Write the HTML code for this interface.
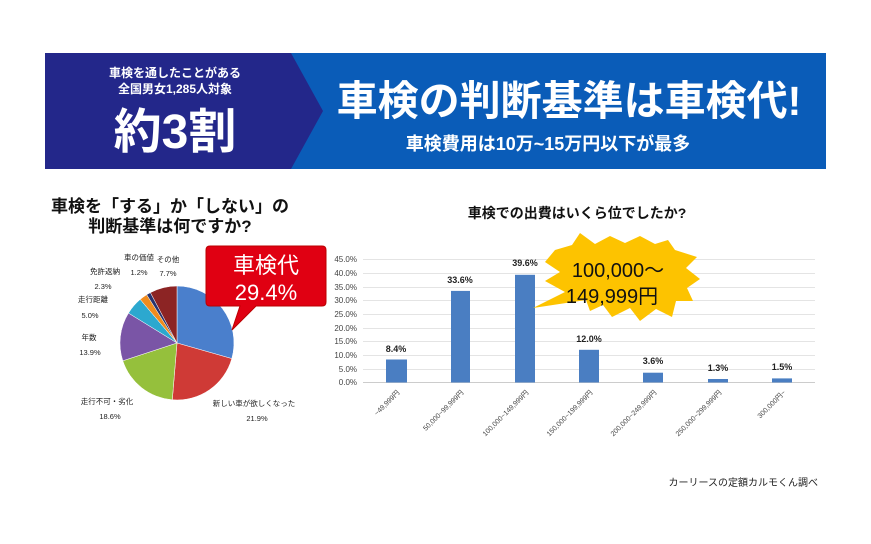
<!DOCTYPE html>
<html><head><meta charset="utf-8"><style>
body{margin:0;width:871px;height:544px;background:#fff;overflow:hidden}
svg{display:block}
text{font-family:"Liberation Sans","Noto Sans CJK JP",sans-serif}
</style></head><body>
<svg width="871" height="544" viewBox="0 0 871 544">
<rect x="45" y="53" width="781" height="116" fill="#0a5cb8"/>
<polygon points="45,53 291,53 323,111 291,169 45,169" fill="#23278a"/>
<text x="175" y="77" fill="#fff" font-size="12" font-weight="bold" text-anchor="middle">車検を通したことがある</text>
<text x="175" y="93" fill="#fff" font-size="12" font-weight="bold" text-anchor="middle">全国男女1,285人対象</text>
<text x="175" y="148" fill="#fff" font-size="48" font-weight="bold" text-anchor="middle">約3割</text>
<text x="569" y="115" fill="#fff" font-size="41" font-weight="bold" text-anchor="middle">車検の判断基準は車検代!</text>
<text x="548" y="150" fill="#fff" font-size="18" font-weight="bold" text-anchor="middle">車検費用は10万~15万円以下が最多</text>

<text x="170" y="212" font-size="17" font-weight="bold" text-anchor="middle" fill="#111">車検を「する」か「しない」の</text>
<text x="170" y="232" font-size="17" font-weight="bold" text-anchor="middle" fill="#111">判断基準は何ですか?</text>

<g stroke="#fff" stroke-width="0.5">
<path d="M177,343 L177,286 A57,57 0 0 1 231.8,358.6Z" fill="#4a7fcc"/>
<path d="M177,343 L231.8,358.6 A57,57 0 0 1 172.3,399.8Z" fill="#cf3a36"/>
<path d="M177,343 L172.3,399.8 A57,57 0 0 1 122.8,360.8Z" fill="#95c03c"/>
<path d="M177,343 L122.8,360.8 A57,57 0 0 1 128.5,313.1Z" fill="#7a55a6"/>
<path d="M177,343 L128.5,313.1 A57,57 0 0 1 140.2,299.4Z" fill="#2ca8cf"/>
<path d="M177,343 L140.2,299.4 A57,57 0 0 1 146.7,294.7Z" fill="#f08c1e"/>
<path d="M177,343 L146.7,294.7 A57,57 0 0 1 150.4,292.6Z" fill="#27336e"/>
<path d="M177,343 L150.4,292.6 A57,57 0 0 1 177,286Z" fill="#8c2424"/>
</g>
<g font-size="7.5" fill="#222" text-anchor="middle">
<text x="139" y="260">車の価値</text><text x="139" y="275">1.2%</text>
<text x="168" y="262">その他</text><text x="168" y="276">7.7%</text>
<text x="105" y="274">免許返納</text><text x="103" y="289">2.3%</text>
<text x="93" y="302">走行距離</text><text x="90" y="318">5.0%</text>
<text x="89" y="340">年数</text><text x="90" y="355">13.9%</text>
<text x="107" y="404">走行不可・劣化</text><text x="110" y="419">18.6%</text>
<text x="254" y="406">新しい車が欲しくなった</text><text x="257" y="421">21.9%</text>
</g>
<path d="M210,246 H322 Q326,246 326,250 V302 Q326,306 322,306 H256 L232,330 L240,306 H210 Q206,306 206,302 V250 Q206,246 210,246Z" fill="#e00012" stroke="#b00" stroke-width="1"/>
<text x="266" y="273" fill="#fff" font-size="22" text-anchor="middle">車検代</text>
<text x="266" y="300" fill="#fff" font-size="22" text-anchor="middle">29.4%</text>

<text x="577" y="218" font-size="14" font-weight="bold" text-anchor="middle" fill="#111">車検での出費はいくら位でしたか?</text>
<g stroke="#e4e4e4" stroke-width="1">
<line x1="363" x2="815" y1="259.5" y2="259.5"/><line x1="363" x2="815" y1="273.5" y2="273.5"/>
<line x1="363" x2="815" y1="287.5" y2="287.5"/><line x1="363" x2="815" y1="300.5" y2="300.5"/>
<line x1="363" x2="815" y1="314.5" y2="314.5"/><line x1="363" x2="815" y1="328.5" y2="328.5"/>
<line x1="363" x2="815" y1="341.5" y2="341.5"/><line x1="363" x2="815" y1="355.5" y2="355.5"/>
<line x1="363" x2="815" y1="369.5" y2="369.5"/><line x1="363" x2="815" y1="382.5" y2="382.5" stroke="#ccc"/>
</g>
<g font-size="8" fill="#444" text-anchor="end">
<text x="357" y="262">45.0%</text><text x="357" y="276">40.0%</text><text x="357" y="290">35.0%</text>
<text x="357" y="303">30.0%</text><text x="357" y="317">25.0%</text><text x="357" y="331">20.0%</text>
<text x="357" y="344">15.0%</text><text x="357" y="358">10.0%</text><text x="357" y="372">5.0%</text>
<text x="357" y="385">0.0%</text>
</g>
<g fill="#4a7ec2">
<rect x="386" y="359.5" width="21" height="23"/>
<rect x="451" y="290.9" width="19" height="91.6"/>
<rect x="515" y="274.8" width="20" height="107.7"/>
<rect x="579" y="349.8" width="20" height="32.7"/>
<rect x="643" y="372.7" width="20" height="9.8"/>
<rect x="708" y="379" width="20" height="3.5"/>
<rect x="772" y="378.4" width="20" height="4.1"/>
</g>
<g font-size="9" font-weight="bold" fill="#222" text-anchor="middle">
<text x="396" y="352">8.4%</text><text x="460" y="283">33.6%</text><text x="525" y="266">39.6%</text>
<text x="589" y="342">12.0%</text><text x="653" y="364">3.6%</text><text x="718" y="371">1.3%</text><text x="782" y="370">1.5%</text>
</g>
<g font-size="7" fill="#444" text-anchor="end">
<text transform="translate(400,393) rotate(-45)">~49,999円</text>
<text transform="translate(464,393) rotate(-45)">50,000~99,999円</text>
<text transform="translate(529,393) rotate(-45)">100,000~149,999円</text>
<text transform="translate(593,393) rotate(-45)">150,000~199,999円</text>
<text transform="translate(657,393) rotate(-45)">200,000~249,999円</text>
<text transform="translate(722,393) rotate(-45)">250,000~299,999円</text>
<text transform="translate(786,393) rotate(-45)">300,000円~</text>
</g>
<polygon points="555,250 572,245 580,233 595,244 610,236 625,243 640,236 655,244 668,240 675,250 697,257 686,268 700,279 687,288 693,301 676,301 672,317 656,309 640,321 630,308 612,317 603,305 590,311 586,300 533,308 565,292 545,281 560,272 545,262" fill="#fdc300"/>
<text x="618" y="277" font-size="20" fill="#111" text-anchor="middle">100,000～</text>
<text x="612" y="303" font-size="20" fill="#111" text-anchor="middle">149,999円</text>

<text x="818" y="486" font-size="10" fill="#222" text-anchor="end">カーリースの定額カルモくん調べ</text>
</svg>
</body></html>
